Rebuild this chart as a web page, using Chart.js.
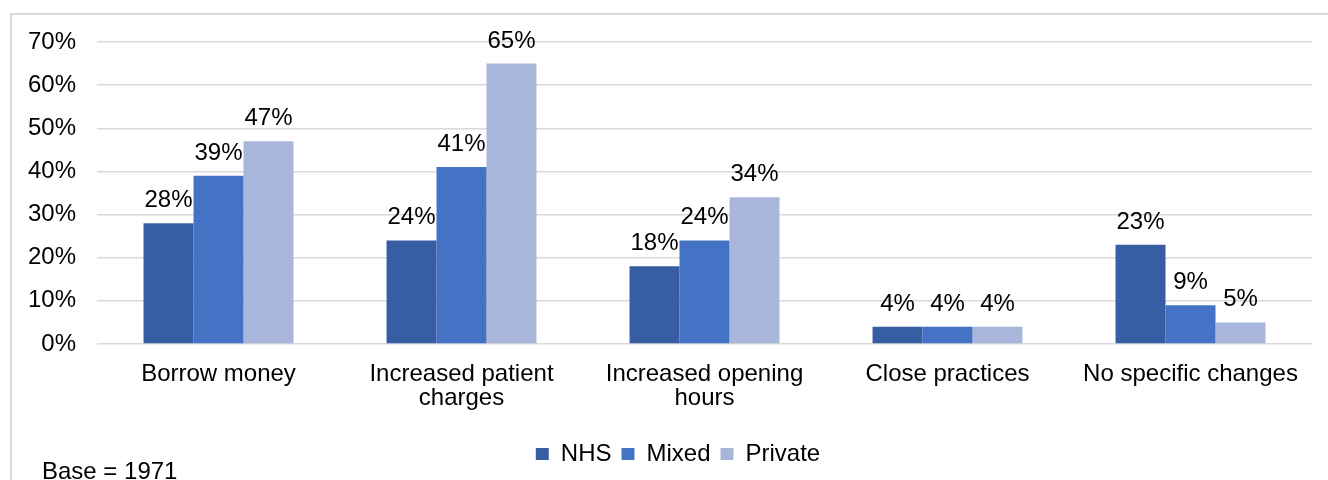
<!DOCTYPE html>
<html lang="en">
  <head>
    <meta charset="UTF-8" />
    <title>Changes made</title>
    <script src="https://cdn.jsdelivr.net/npm/chart.js"></script>
    <style>
      body {
        margin: 0;
        overflow: hidden;
        background: #ffffff;
      }
      .wrap {
        position: relative;
        width: 1328px;
        height: 480px;
      }
      .base {
        position: absolute;
        left: 42px;
        top: 459px;
        font-family: "Liberation Sans", Arial, sans-serif;
        font-size: 24px;
        line-height: 24px;
        color: #000000;
        white-space: nowrap;
      }
    </style>
  </head>
  <body>
    <div class="wrap">
      <canvas id="myChart"></canvas>
      <div class="base">Base = 1971</div>
    </div>
    <script>
      var categorias = [
        "Borrow money",
        ["Increased patient", "charges"],
        ["Increased opening", "hours"],
        "Close practices",
        "No specific changes",
      ];
      var nhs = [28, 24, 18, 4, 23];
      var mixed = [39, 41, 24, 4, 9];
      var privado = [47, 65, 34, 4, 5];
      var yTicks = [0, 10, 20, 30, 40, 50, 60, 70];

      var fonte = "'Liberation Sans', Arial, sans-serif";

      // moldura cinza em volta do gráfico
      var moldura = {
        id: "moldura",
        beforeDraw: function (chart) {
          var ctx = chart.ctx;
          ctx.save();
          ctx.strokeStyle = "#d9d9d9";
          ctx.lineWidth = 2;
          ctx.strokeRect(11, 14, 1340, 500);
          ctx.restore();
        },
      };

      // legenda um pouco para a direita, como no original
      var moverLegenda = {
        id: "moverLegenda",
        afterLayout: function (chart) {
          chart.legend.left += 22;
          chart.legend.right += 22;
        },
      };

      // rótulos de valor em cima das barras
      var rotulos = {
        id: "rotulos",
        afterDatasetsDraw: function (chart) {
          var ctx = chart.ctx;
          ctx.save();
          ctx.font = "24px " + fonte;
          ctx.fillStyle = "#000000";
          ctx.textAlign = "center";
          ctx.textBaseline = "alphabetic";
          chart.data.datasets.forEach(function (ds, i) {
            var meta = chart.getDatasetMeta(i);
            meta.data.forEach(function (bar, j) {
              ctx.fillText(ds.data[j] + "%", bar.x, bar.y - 16);
            });
          });
          ctx.restore();
        },
      };

      const ctx = document.getElementById("myChart");
      new Chart(ctx, {
        type: "bar",
        data: {
          labels: categorias,
          datasets: [
            {
              label: "NHS",
              data: nhs,
              backgroundColor: "#375ea3",
            },
            {
              label: "Mixed",
              data: mixed,
              backgroundColor: "#4472c4",
            },
            {
              label: "Private",
              data: privado,
              backgroundColor: "#a9b6db",
            },
          ],
        },
        options: {
          responsive: true,
          maintainAspectRatio: false,
          animation: false,
          layout: {
            padding: { top: 42, right: 16, bottom: 4, left: 0 },
          },
          datasets: {
            bar: {
              categoryPercentage: 0.617,
              barPercentage: 1,
            },
          },
          plugins: {
            tooltip: { enabled: false },
            legend: {
              position: "bottom",
              labels: {
                color: "#000000",
                boxWidth: 13,
                boxHeight: 12,
                padding: 10,
                font: { family: fonte, size: 24 },
              },
            },
          },
          scales: {
            x: {
              grid: { display: false, drawTicks: false },
              border: { display: false },
              ticks: {
                color: "#000000",
                padding: 18,
                maxRotation: 0,
                autoSkip: false,
                font: { family: fonte, size: 24, lineHeight: 1.0 },
              },
              afterFit: function (scale) {
                scale.height = 88;
              },
            },
            y: {
              min: 0,
              max: 70,
              afterBuildTicks: function (scale) {
                scale.ticks = yTicks.map(function (v) {
                  return { value: v };
                });
              },
              grid: { color: "#d9d9d9", lineWidth: 1.5, drawTicks: false },
              border: { display: false },
              ticks: {
                color: "#000000",
                padding: 21,
                font: { family: fonte, size: 24 },
                callback: function (v) {
                  return v + "%";
                },
              },
              afterFit: function (scale) {
                scale.width = 97;
              },
            },
          },
        },
        plugins: [moldura, moverLegenda, rotulos],
      });
    </script>
  </body>
</html>
